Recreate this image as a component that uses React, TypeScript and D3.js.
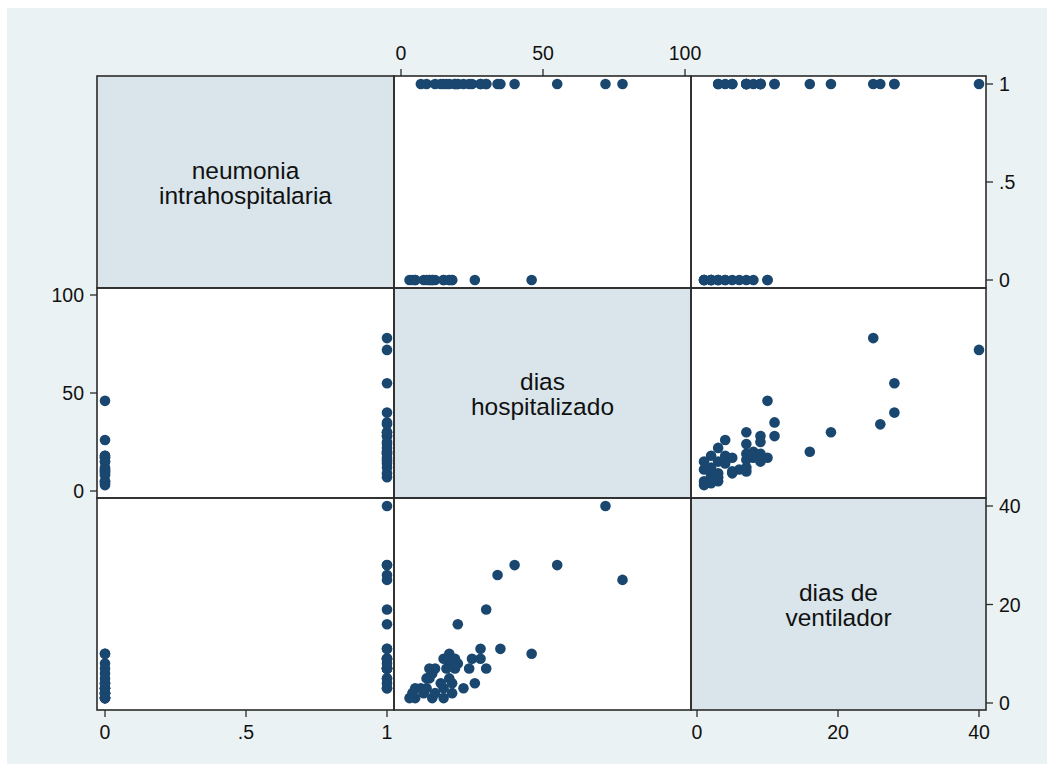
import React from "react";
import * as d3 from "d3";

// Patient records: pneumonia flag, days hospitalised, days on ventilator
const neumonia = [
  0, 0, 0, 0, 0, 0, 0, 0, 0, 0, 0, 0, 0, 0, 0, 0, 0, 0, 0,
  1, 1, 1, 1, 1, 1, 1, 1, 1, 1, 1, 1, 1, 1, 1, 1, 1, 1, 1, 1, 1, 1, 1, 1,
];
const diasHosp = [
  3, 5, 11, 15, 4, 8, 12, 18, 5, 9, 15, 18, 26, 10, 11, 10, 17, 17, 46,
  7, 22, 14, 9, 17, 12, 16, 19, 24, 30, 20, 15, 19, 25, 28, 28, 35, 20, 30, 78, 34, 40, 55, 72,
];
const diasVent = [
  1, 1, 1, 1, 2, 2, 2, 2, 3, 3, 3, 4, 4, 5, 6, 7, 8, 10, 10,
  3, 3, 4, 5, 5, 7, 7, 7, 7, 7, 8, 9, 9, 9, 9, 11, 11, 16, 19, 25, 26, 28, 28, 40,
];

const varLabels = [["neumonia", "intrahospitalaria"], ["dias", "hospitalizado"], ["dias de", "ventilador"]];
const neumoniaTicks = [0, 0.5, 1];
const hospTicks = [0, 50, 100];
const ventTicks = [0, 20, 40];

const W = 1054;
const H = 772;
const colEdges = [97, 394, 691, 986];
const rowEdges = [76, 288, 498, 710];

const navy = "#1a476f";
const frame = "#2b2b2b";
const font = "'Liberation Sans', Arial, Helvetica, sans-serif";

const fmt = (v: number) => (v === 0.5 ? ".5" : String(v));

export default function App() {
  const vars = [neumonia, diasHosp, diasVent];
  const xScales = [
    d3.scaleLinear().domain([0, 1]).range([105, 387]),
    d3.scaleLinear().domain([0, 100]).range([401, 685]),
    d3.scaleLinear().domain([0, 40]).range([697, 979]),
  ];
  const yScales = [
    d3.scaleLinear().domain([0, 1]).range([280, 84]),
    d3.scaleLinear().domain([0, 100]).range([491, 295]),
    d3.scaleLinear().domain([0, 40]).range([703, 506]),
  ];
  const n = neumonia.length;
  const idx = d3.range(n);
  const tickFs = 19.5;
  const tickLen = 7;

  const cells: React.ReactNode[] = [];
  for (let r = 0; r < 3; r++) {
    for (let c = 0; c < 3; c++) {
      const x0 = colEdges[c], x1 = colEdges[c + 1];
      const y0 = rowEdges[r], y1 = rowEdges[r + 1];
      if (r === c) {
        const cx = (x0 + x1) / 2, cy = (y0 + y1) / 2;
        cells.push(
          <g key={`d${r}`}>
            <rect x={x0} y={y0} width={x1 - x0} height={y1 - y0} fill="#d9e5eb" />
            {varLabels[r].map((t, i) => (
              <text key={i} x={cx} y={cy + 1 + (i - 0.5) * 25} textAnchor="middle" dominantBaseline="central"
                fontSize={24.5} fontFamily={font} fill="#111">{t}</text>
            ))}
          </g>
        );
      } else {
        const xs = xScales[c], ys = yScales[r];
        cells.push(
          <g key={`c${r}${c}`}>
            <rect x={x0} y={y0} width={x1 - x0} height={y1 - y0} fill="#fff" />
            {idx.map((i) => (
              <circle key={i} cx={xs(vars[c][i])} cy={ys(vars[r][i])} r={5.3} fill={navy} />
            ))}
          </g>
        );
      }
    }
  }

  // cell frames
  const frames: React.ReactNode[] = [];
  for (let r = 0; r < 3; r++)
    for (let c = 0; c < 3; c++)
      frames.push(
        <rect key={`f${r}${c}`} x={colEdges[c]} y={rowEdges[r]} width={colEdges[c + 1] - colEdges[c]}
          height={rowEdges[r + 1] - rowEdges[r]} fill="none" stroke={frame} strokeWidth={1.6} />
      );

  const axisStyle = { fontSize: tickFs, fontFamily: font, fill: "#111" } as const;

  return (
    <svg width={W} height={H} style={{ position: "absolute", left: 0, top: 0, background: "#fff" }}>
      <rect x={7} y={8} width={W - 14} height={H - 16} fill="#eaf2f3" />
      {cells}
      {frames}

      {/* top axis: dias hospitalizado */}
      <g>
        {hospTicks.map((t) => (
          <g key={t}>
            <line x1={xScales[1](t)} x2={xScales[1](t)} y1={rowEdges[0]} y2={rowEdges[0] - tickLen} stroke={frame} strokeWidth={1.3} />
            <text x={xScales[1](t)} y={rowEdges[0] - 16} textAnchor="middle" {...axisStyle}>{t}</text>
          </g>
        ))}
      </g>

      {/* right axis: neumonia */}
      <g>
        {neumoniaTicks.map((t) => (
          <g key={t}>
            <line x1={colEdges[3]} x2={colEdges[3] + tickLen} y1={yScales[0](t)} y2={yScales[0](t)} stroke={frame} strokeWidth={1.3} />
            <text x={colEdges[3] + 13} y={yScales[0](t)} dominantBaseline="central" {...axisStyle}>{fmt(t)}</text>
          </g>
        ))}
      </g>

      {/* left axis: dias hospitalizado */}
      <g>
        {hospTicks.map((t) => (
          <g key={t}>
            <line x1={colEdges[0]} x2={colEdges[0] - tickLen} y1={yScales[1](t)} y2={yScales[1](t)} stroke={frame} strokeWidth={1.3} />
            <text x={colEdges[0] - 13} y={yScales[1](t)} textAnchor="end" dominantBaseline="central" {...axisStyle}>{t}</text>
          </g>
        ))}
      </g>

      {/* right axis: dias de ventilador */}
      <g>
        {ventTicks.map((t) => (
          <g key={t}>
            <line x1={colEdges[3]} x2={colEdges[3] + tickLen} y1={yScales[2](t)} y2={yScales[2](t)} stroke={frame} strokeWidth={1.3} />
            <text x={colEdges[3] + 13} y={yScales[2](t)} dominantBaseline="central" {...axisStyle}>{t}</text>
          </g>
        ))}
      </g>

      {/* bottom axis: neumonia */}
      <g>
        {neumoniaTicks.map((t) => (
          <g key={t}>
            <line x1={xScales[0](t)} x2={xScales[0](t)} y1={rowEdges[3]} y2={rowEdges[3] + tickLen} stroke={frame} strokeWidth={1.3} />
            <text x={xScales[0](t)} y={rowEdges[3] + 15} textAnchor="middle" dominantBaseline="hanging" {...axisStyle}>{fmt(t)}</text>
          </g>
        ))}
      </g>

      {/* bottom axis: dias de ventilador */}
      <g>
        {ventTicks.map((t) => (
          <g key={t}>
            <line x1={xScales[2](t)} x2={xScales[2](t)} y1={rowEdges[3]} y2={rowEdges[3] + tickLen} stroke={frame} strokeWidth={1.3} />
            <text x={xScales[2](t)} y={rowEdges[3] + 15} textAnchor="middle" dominantBaseline="hanging" {...axisStyle}>{t}</text>
          </g>
        ))}
      </g>
    </svg>
  );
}
